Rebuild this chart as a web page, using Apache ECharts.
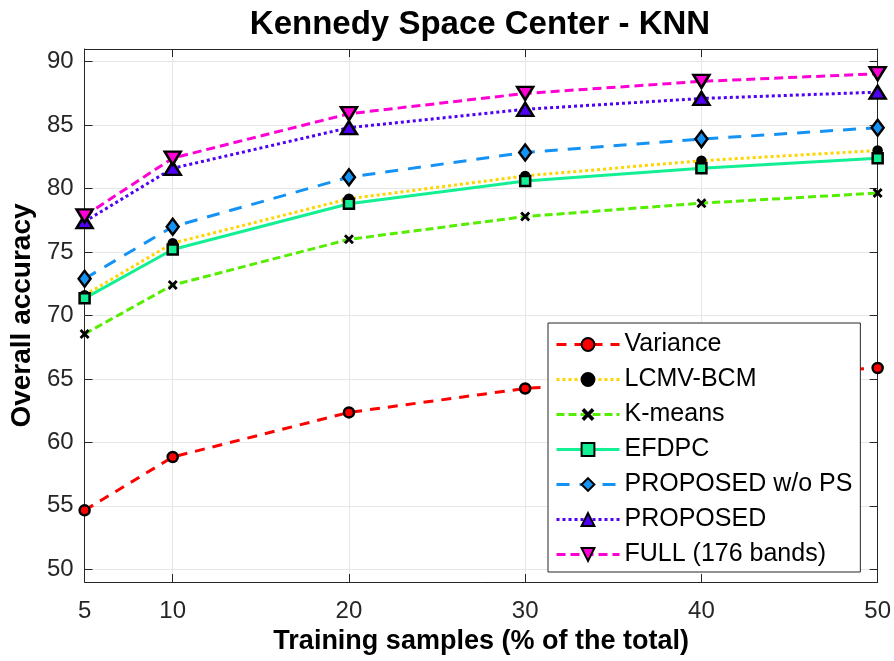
<!DOCTYPE html>
<html>
<head>
<meta charset="utf-8">
<script src="https://cdn.jsdelivr.net/npm/echarts@6/dist/echarts.min.js"></script>
<style>
html,body{margin:0;padding:0;background:#fff;}
#chart{width:894px;height:661px;}
</style>
</head>
<body>
<div id="chart"></div>
<script>
const xValues = [5, 10, 20, 30, 40, 50];
const yTicks = [50, 55, 60, 65, 70, 75, 80, 85, 90];
const seriesNames = ['Variance', 'LCMV-BCM', 'K-means', 'EFDPC', 'PROPOSED w/o PS', 'PROPOSED', 'FULL (176 bands)'];
const variance = [54.65, 58.85, 62.36, 64.25, 65.2, 65.86];
const lcmvBcm = [71.6, 75.7, 79.2, 81.0, 82.2, 83.0];
const kMeans = [68.55, 72.4, 76.0, 77.8, 78.85, 79.65];
const efdpc = [71.35, 75.2, 78.8, 80.6, 81.6, 82.4];
const proposedWoPS = [72.9, 77.0, 80.9, 82.85, 83.9, 84.8];
const proposed = [77.4, 81.6, 84.8, 86.25, 87.1, 87.6];
const full = [77.85, 82.4, 85.9, 87.5, 88.45, 89.05];

const FONT = "'Liberation Sans', Arial, Helvetica, sans-serif";
const AX = '#262626';
const xPath = 'path://M2,0 L5,3 L8,0 L10,2 L7,5 L10,8 L8,10 L5,7 L2,10 L0,8 L3,5 L0,2 Z';

function pairs(arr) { return arr.map((v, i) => [xValues[i], v]); }

function mk(name, data, color, dash, symbol, size, fill, border, rotate) {
  return {
    name: name, type: 'line', data: pairs(data),
    symbol: symbol, symbolSize: size, symbolRotate: rotate || 0,
    lineStyle: { color: color, width: 3, type: dash },
    itemStyle: { color: fill, borderColor: '#000', borderWidth: border },
    emphasis: { disabled: true },
    animation: false
  };
}

const chart = echarts.init(document.getElementById('chart'), null, { renderer: 'canvas' });
const baseX = { type: 'value', min: 5, max: 50 };
const baseY = { type: 'value', min: 49, max: 91 };

chart.setOption({
  backgroundColor: '#fff',
  animation: false,
  title: {
    text: 'Kennedy Space Center - KNN',
    left: 480, top: 8, padding: 0, textAlign: 'center',
    textStyle: { fontFamily: FONT, fontSize: 33, fontWeight: 'bold', color: '#000' }
  },
  grid: { left: 84, right: 15, top: 49, bottom: 79, containLabel: false },
  xAxis: [
    Object.assign({}, baseX, {
      position: 'bottom',
      name: 'Training samples (% of the total)', nameLocation: 'middle', nameGap: 32,
      nameTextStyle: { fontFamily: FONT, fontSize: 27, fontWeight: 'bold', color: '#000' },
      axisLine: { show: true, onZero: false, lineStyle: { color: AX, width: 1 } },
      axisTick: { show: true, inside: true, length: 8, customValues: xValues, lineStyle: { color: AX } },
      axisLabel: { customValues: xValues, margin: 17, fontFamily: FONT, fontSize: 24, color: AX },
      splitLine: { show: true, lineStyle: { color: '#e6e6e6', width: 1 } }
    }),
    Object.assign({}, baseX, {
      position: 'top',
      axisLine: { show: true, onZero: false, lineStyle: { color: AX, width: 1 } },
      axisTick: { show: true, inside: true, length: 8, customValues: xValues, lineStyle: { color: AX } },
      axisLabel: { show: false },
      splitLine: { show: false }
    })
  ],
  yAxis: [
    Object.assign({}, baseY, {
      position: 'left',
      name: 'Overall accuracy', nameLocation: 'middle', nameGap: 46, nameRotate: 90,
      nameTextStyle: { fontFamily: FONT, fontSize: 28, fontWeight: 'bold', color: '#000' },
      axisLine: { show: true, onZero: false, lineStyle: { color: AX, width: 1 } },
      axisTick: { show: true, inside: true, length: 8, customValues: yTicks, lineStyle: { color: AX } },
      axisLabel: { customValues: yTicks, margin: 11, fontFamily: FONT, fontSize: 24, color: AX },
      splitLine: { show: true, lineStyle: { color: '#e6e6e6', width: 1 } }
    }),
    Object.assign({}, baseY, {
      position: 'right',
      axisLine: { show: true, onZero: false, lineStyle: { color: AX, width: 1 } },
      axisTick: { show: true, inside: true, length: 8, customValues: yTicks, lineStyle: { color: AX } },
      axisLabel: { show: false },
      splitLine: { show: false }
    })
  ],
  legend: {
    orient: 'vertical', left: 548, top: 323,
    padding: [9, 8, 5, 7],
    itemWidth: 63, itemHeight: 16, itemGap: 10,
    backgroundColor: '#fff', borderColor: AX, borderWidth: 1, borderRadius: 0,
    textStyle: { fontFamily: FONT, fontSize: 25, color: '#000', lineHeight: 24 },
    lineStyle: { width: 3 },
    selectedMode: false,
    data: seriesNames
  },
  series: [
    mk(seriesNames[0], variance, '#ff0000', [10, 8], 'circle', 10, '#ff0000', 2.5),
    mk(seriesNames[1], lcmvBcm, '#ffd500', [3, 3], 'circle', 9, '#000', 1.5),
    mk(seriesNames[2], kMeans, '#55ee00', [8, 4], xPath, 10, '#000', 0),
    mk(seriesNames[3], efdpc, '#12f093', 'solid', 'rect', 10, '#12f093', 2.5),
    mk(seriesNames[4], proposedWoPS, '#1493f5', [13, 10], 'diamond', [12, 16], '#1493f5', 2.5),
    mk(seriesNames[5], proposed, '#5000f5', [3, 3], 'triangle', [16, 13], '#5000f5', 2.5),
    mk(seriesNames[6], full, '#ff00d4', [9, 5], 'triangle', [16, 13], '#ff00d4', 2.5, 180)
  ]
});
</script>
</body>
</html>
